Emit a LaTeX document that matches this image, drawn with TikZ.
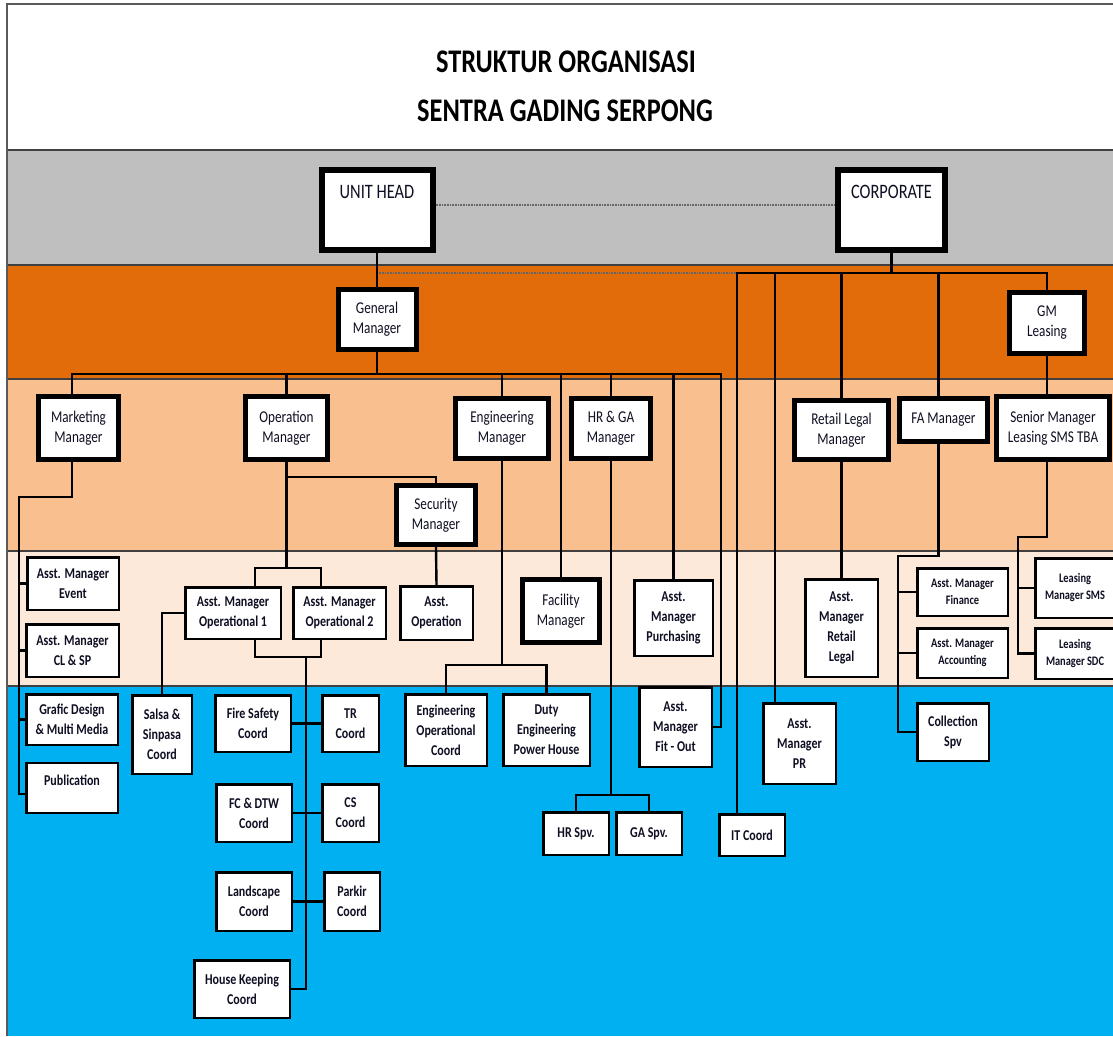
\documentclass[tikz,border=0pt]{standalone}
\usepackage{fontspec}
\setmainfont{Carlito}[FakeStretch=0.8]
\usetikzlibrary{positioning, calc}

\definecolor{bandgray}{HTML}{BFBFBF}
\definecolor{bandorange}{HTML}{E36C0A}
\definecolor{bandlight}{HTML}{FABF8F}
\definecolor{bandpeach}{HTML}{FDE9D9}
\definecolor{bandblue}{HTML}{00B0F0}
\definecolor{boxtext}{RGB}{15,15,35}

\tikzset{
  headline/.style={font=\bfseries\fontsize{33}{38}\selectfont, text=black},
  bigbox/.style={draw, fill=white, line width=6pt, inner sep=0pt, align=center, text=boxtext, font=\fontsize{20.5}{24}\selectfont},
  thickbox/.style={draw, fill=white, line width=5pt, inner sep=0pt, align=center, text=boxtext, font=\fontsize{16.5}{20}\selectfont},
  thinbox/.style={draw, fill=white, line width=2.5pt, inner sep=0pt, align=center, text=boxtext, font=\bfseries\fontsize{15}{20}\selectfont},
  smallbox/.style={thinbox, font=\bfseries\fontsize{13}{17}\selectfont},
  orglink/.style={line width=2.4pt},
  dotlink/.style={line width=1.5pt, dash pattern=on 0.8pt off 0.8pt, draw=black!60},
  bandline/.style={line width=1.5pt, draw=black!75},
  pageframe/.style={line width=1.5pt, draw=black!65}
}

\begin{document}
\begin{tikzpicture}[x=1pt,y=-1pt]
\useasboundingbox (0,0) rectangle (1113,1036);

% bands
\fill[white] (0,0) rectangle (1113,1036);
\fill[bandgray] (7,150) rectangle (1113,265);
\fill[bandorange] (7,265) rectangle (1113,379);
\fill[bandlight] (7,379) rectangle (1113,551);
\fill[bandpeach] (7,551) rectangle (1113,686);
\fill[bandblue] (7,686) rectangle (1113,1036);
\foreach \y in {150,265,379,551,686}
  \draw[bandline] (7,\y) -- (1113,\y);
\draw[pageframe] (1113,4) -- (7,4) -- (7,1036);

% title
\node[headline] (title1) at (566,62) {STRUKTUR ORGANISASI};
\node[headline] (title2) at (565,111) {SENTRA GADING SERPONG};

% top level
\node[bigbox, minimum width=111pt, text height=28pt, text depth=52pt] (unithead) at (377,210) {UNIT HEAD};
\node[bigbox, minimum width=107pt, text height=28pt, text depth=52pt] (corporate) at (891.5,210) {CORPORATE};

% managers
\node[thickbox, minimum width=78pt, minimum height=60pt] (gm) at (377,319.5) {General\\Manager};
\node[thickbox, minimum width=75pt, minimum height=61pt] (gmleasing) at (1047,323) {GM\\Leasing};
\node[thickbox, minimum width=80pt, minimum height=63pt] (mkt) at (78.5,428) {Marketing\\Manager};
\node[thickbox, minimum width=82pt, minimum height=63pt] (opm) at (286.5,428) {Operation\\Manager};
\node[thickbox, minimum width=93pt, minimum height=60pt] (engm) at (502,428.5) {Engineering\\Manager};
\node[thickbox, minimum width=79pt, minimum height=60pt] (hrga) at (611,428.5) {HR \& GA\\Manager};
\node[thickbox, minimum width=94pt, minimum height=59pt] (retail) at (841.5,430) {Retail Legal\\Manager};
\node[thickbox, minimum width=88pt, minimum height=43pt] (fam) at (943.5,420) {FA Manager};
\node[thickbox, minimum width=113pt, minimum height=63pt] (senior) at (1053,428) {Senior Manager\\Leasing SMS TBA};
\node[thickbox, minimum width=79pt, minimum height=59pt] (security) at (436,515) {Security\\Manager};
\node[thickbox, minimum width=77pt, minimum height=63pt] (facility) at (561,611) {Facility\\Manager};

% assistants and coordinators
\node[thinbox, minimum width=91.5pt, minimum height=52.5pt] (amevent) at (73,583.5) {Asst. Manager\\Event};
\node[thinbox, minimum width=92.5pt, minimum height=52.5pt] (amclsp) at (72.5,650.5) {Asst. Manager\\CL \& SP};
\node[thinbox, minimum width=91.5pt, minimum height=50.5pt] (grafic) at (72,719.5) {Grafic Design\\\& Multi Media};
\node[thinbox, minimum width=91.5pt, text height=22pt, text depth=28pt] (publication) at (72,788) {Publication};
\node[thinbox, minimum width=59.5pt, minimum height=78.5pt] (salsa) at (162,734.5) {Salsa \&\\Sinpasa\\Coord};
\node[thinbox, minimum width=95.5pt, minimum height=51.5pt] (op1) at (233,613) {Asst. Manager\\Operational 1};
\node[thinbox, minimum width=92.5pt, minimum height=51.5pt] (op2) at (339.5,613) {Asst. Manager\\Operational 2};
\node[thinbox, minimum width=72.5pt, minimum height=53.5pt] (asstop) at (436.5,613) {Asst.\\Operation};
\node[thinbox, minimum width=78.5pt, minimum height=75.5pt] (purchasing) at (673.5,618) {Asst.\\Manager\\Purchasing};
\node[thinbox, minimum width=72.5pt, minimum height=97.5pt] (retaillegal) at (841.5,628) {Asst.\\Manager\\Retail\\Legal};
\node[thinbox, minimum width=75.5pt, minimum height=56.5pt] (fire) at (253,723.5) {Fire Safety\\Coord};
\node[thinbox, minimum width=56.5pt, minimum height=56.5pt] (tr) at (350.5,723.5) {TR\\Coord};
\node[thinbox, minimum width=75.5pt, minimum height=57.5pt] (fcdtw) at (254,813) {FC \& DTW\\Coord};
\node[thinbox, minimum width=56.5pt, minimum height=57.5pt] (cs) at (350.5,813) {CS\\Coord};
\node[thinbox, minimum width=75.5pt, minimum height=58.5pt] (landscape) at (254,901.5) {Landscape\\Coord};
\node[thinbox, minimum width=55.5pt, minimum height=58.5pt] (parkir) at (352,901.5) {Parkir\\Coord};
\node[thinbox, minimum width=95.5pt, minimum height=57.5pt] (housekeeping) at (242,989) {House Keeping\\Coord};
\node[thinbox, minimum width=81.5pt, minimum height=71.5pt] (engop) at (446,730) {Engineering\\Operational\\Coord};
\node[thinbox, minimum width=86.5pt, minimum height=71.5pt] (duty) at (546.5,730) {Duty\\Engineering\\Power House};
\node[thinbox, minimum width=72.5pt, minimum height=79.5pt] (fitout) at (675.5,727) {Asst.\\Manager\\Fit - Out};
\node[thinbox, minimum width=65.5pt, minimum height=42.5pt] (hrspv) at (576,833.5) {HR Spv.};
\node[thinbox, minimum width=65.5pt, minimum height=42.5pt] (gaspv) at (649,833.5) {GA Spv.};
\node[thinbox, minimum width=65.5pt, minimum height=41.5pt] (itcoord) at (752,835) {IT Coord};
\node[thinbox, minimum width=72.5pt, minimum height=80.5pt] (pr) at (799.5,743.5) {Asst.\\Manager\\PR};
\node[thinbox, minimum width=71.5pt, minimum height=57.5pt] (collection) at (953,732) {Collection\\Spv};
\node[smallbox, minimum width=90.5pt, minimum height=47.5pt] (finance) at (962.5,592) {Asst. Manager\\Finance};
\node[smallbox, minimum width=90.5pt, minimum height=49.5pt] (accounting) at (962.5,653) {Asst. Manager\\Accounting};
\node[smallbox, minimum width=79.5pt, minimum height=59.5pt] (lmsms) at (1075,588) {Leasing\\Manager SMS};
\node[smallbox, minimum width=79.5pt, minimum height=50.5pt] (lmsdc) at (1075,653.5) {Leasing\\Manager SDC};

%connections
\coordinate (gmbus) at (377,374);
\coordinate (corpbus) at (891.5,273);
\coordinate (dotl) at (377,273);
\coordinate (corpl) at (737,273);
\coordinate (lsv) at (1018,537);
\coordinate (fav) at (898,556);
\coordinate (mkv) at (19,497);
\coordinate (opj) at (286.5,568);
\coordinate (opb) at (306,657);
\coordinate (engj) at (502,665);
\coordinate (hrj) at (611,795);

\draw[dotlink] ([yshift=5pt]unithead.east) -- ([yshift=5pt]corporate.west);
\draw[dotlink] (dotl) -- (corpl);
\draw[orglink] (unithead.south) -- (gm.north);

\draw[orglink] (corporate.south) -- (corpbus);
\draw[orglink] (corpbus) -| (corpl) -- (corpl |- itcoord.north);
\draw[orglink] (corpbus) -| ([xshift=-24.5pt]pr.north);
\draw[orglink] (corpbus) -| (retail.north);
\draw[orglink] (corpbus) -| ([xshift=-5pt]fam.north);
\draw[orglink] (corpbus) -| (gmleasing.north);
\draw[orglink] (gmleasing.south) -- (gmleasing.south |- senior.north);
\draw[orglink] (gmleasing.south |- senior.south) |- (lsv) |- (lmsdc.west);
\draw[orglink] (lsv) |- (lmsms.west);
\draw[orglink] ([xshift=-5pt]fam.south) |- (fav) |- (collection.west);
\draw[orglink] (fav) |- (finance.west);
\draw[orglink] (fav) |- (accounting.west);
\draw[orglink] (retail.south) -- (retaillegal.north);

\draw[orglink] (gm.south) -- (gmbus);
\draw[orglink] (gmbus) -| ([xshift=-6.5pt]mkt.north);
\draw[orglink] (gmbus) -| (opm.north);
\draw[orglink] (gmbus) -| (engm.north);
\draw[orglink] (gmbus) -| (facility.north);
\draw[orglink] (gmbus) -| (hrga.north);
\draw[orglink] (gmbus) -| (purchasing.north);
\draw[orglink] (gmbus) -| ([xshift=8pt]fitout.east) -- (fitout.east);

\draw[orglink] ([xshift=-6.5pt]mkt.south) |- (mkv) |- ([yshift=-6pt]publication.west);
\draw[orglink] (mkv) |- (amevent.west);
\draw[orglink] (mkv) |- (amclsp.west);
\draw[orglink] (mkv) |- (grafic.west);

\draw[orglink] (opm.south) |- ([yshift=6pt]security.north) -- (security.north);
\draw[orglink] (opm.south) -- (opj);
\draw[orglink] ([xshift=22pt]op1.north) |- (opj) -| ([xshift=-18.5pt]op2.north);
\draw[orglink] ([xshift=22pt]op1.south) |- (opb) -| ([xshift=-18.5pt]op2.south);
\draw[orglink] (opb) |- (housekeeping.east);
\draw[orglink] (fire.east) -- (tr.west);
\draw[orglink] (fcdtw.east) -- (cs.west);
\draw[orglink] (landscape.east) -- (parkir.west);
\draw[orglink] (op1.west) -| (salsa.north);
\draw[orglink] (security.south) -- (asstop.north);

\draw[orglink] (engm.south) -- (engj);
\draw[orglink] (engop.north) |- (engj) -| (duty.north);
\draw[orglink] (hrga.south) -- (hrj);
\draw[orglink] (hrspv.north) |- (hrj) -| (gaspv.north);
\end{tikzpicture}
\end{document}
